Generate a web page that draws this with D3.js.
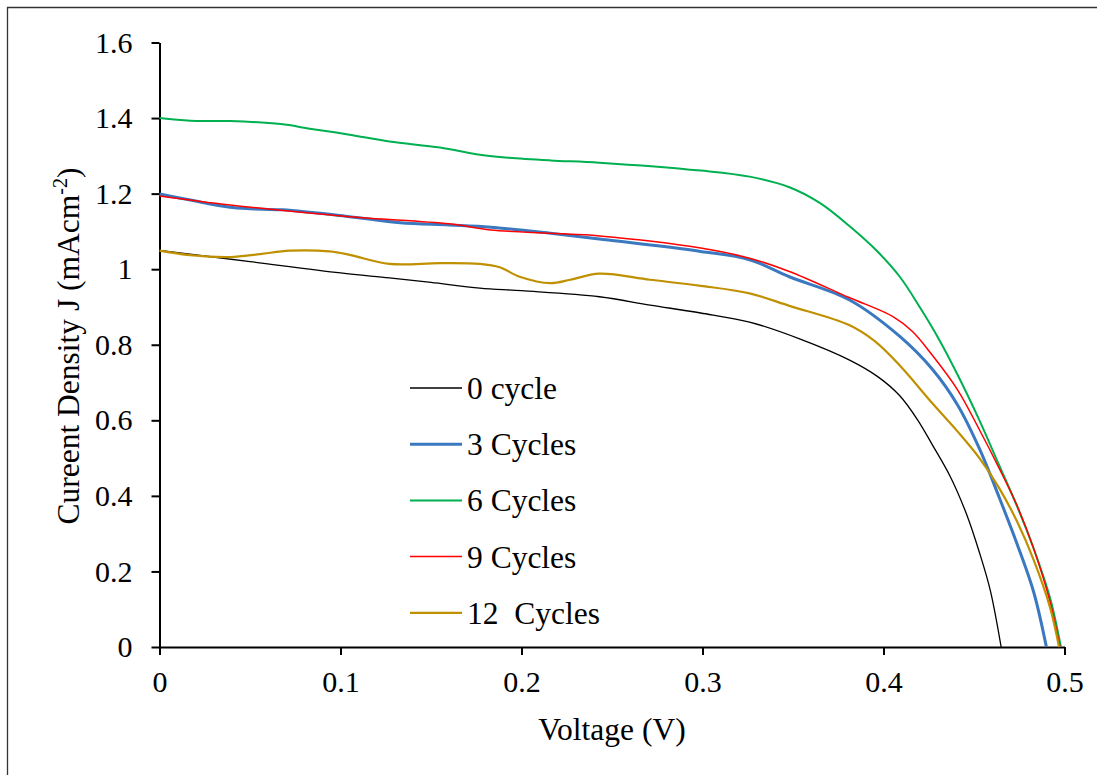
<!DOCTYPE html>
<html>
<head>
<meta charset="utf-8">
<script src="https://cdn.jsdelivr.net/npm/d3@7"></script>
<style>
  html, body { margin: 0; padding: 0; background: #fff; }
  svg { display: block; }
  text { font-family: "Liberation Serif", "Times New Roman", serif; fill: #000; }
</style>
</head>
<body>
<svg id="chart" width="1097" height="775"></svg>
<script>
// J–V curves (voltage in V, current density in mA/cm²)
const seriesNames = ["0 cycle", "3 Cycles", "6 Cycles", "9 Cycles", "12  Cycles"];
const seriesColors = ["#000000", "#3a78bf", "#00b050", "#ff0000", "#bf9000"];
const seriesWidths = [1.3, 3, 2, 1.5, 2.2];

const cycle0 = [
  [0, 1.05], [0.05, 1.02], [0.1, 0.99], [0.127, 0.977], [0.15, 0.965], [0.177, 0.95],
  [0.2, 0.943], [0.243, 0.927], [0.271, 0.905], [0.299, 0.884], [0.326, 0.86],
  [0.354, 0.815], [0.381, 0.76], [0.397, 0.715], [0.409, 0.665], [0.419, 0.6],
  [0.427, 0.535], [0.437, 0.45], [0.446, 0.35], [0.453, 0.25], [0.459, 0.15], [0.465, 0]
];
const cycle3 = [
  [0, 1.199], [0.017, 1.183], [0.039, 1.164], [0.05, 1.16], [0.068, 1.157],
  [0.105, 1.139], [0.133, 1.123], [0.16, 1.117], [0.183, 1.111], [0.216, 1.095],
  [0.243, 1.08], [0.299, 1.047], [0.326, 1.025], [0.348, 0.98], [0.381, 0.919],
  [0.409, 0.822], [0.427, 0.735], [0.441, 0.64], [0.453, 0.525], [0.464, 0.395],
  [0.474, 0.27], [0.483, 0.145], [0.49, 0]
];
const cycle6 = [
  [0, 1.40], [0.017, 1.393], [0.039, 1.392], [0.067, 1.384], [0.083, 1.372],
  [0.105, 1.356], [0.127, 1.338], [0.155, 1.322], [0.177, 1.303], [0.193, 1.295],
  [0.216, 1.288], [0.243, 1.282], [0.299, 1.261], [0.326, 1.245], [0.348, 1.217],
  [0.365, 1.175], [0.381, 1.115], [0.396, 1.05], [0.409, 0.98], [0.42, 0.9],
  [0.43, 0.82], [0.441, 0.72], [0.453, 0.6], [0.464, 0.48], [0.474, 0.37],
  [0.483, 0.26], [0.492, 0.13], [0.498, 0]
];
const cycle9 = [
  [0, 1.194], [0.039, 1.17], [0.105, 1.139], [0.16, 1.12], [0.183, 1.104],
  [0.216, 1.095], [0.243, 1.088], [0.299, 1.056], [0.326, 1.029], [0.348, 0.994],
  [0.381, 0.925], [0.405, 0.875], [0.416, 0.835], [0.427, 0.772], [0.441, 0.68],
  [0.453, 0.575], [0.464, 0.472], [0.474, 0.372], [0.483, 0.26], [0.492, 0.12],
  [0.4975, 0]
];
const cycle12 = [
  [0, 1.049], [0.017, 1.037], [0.039, 1.032], [0.0555, 1.04], [0.072, 1.049],
  [0.094, 1.047], [0.105, 1.038], [0.127, 1.014], [0.155, 1.016], [0.177, 1.014],
  [0.188, 1.005], [0.199, 0.98], [0.216, 0.963], [0.227, 0.972], [0.243, 0.988],
  [0.271, 0.972], [0.299, 0.956], [0.326, 0.936], [0.348, 0.903], [0.381, 0.852],
  [0.395, 0.81], [0.409, 0.745], [0.427, 0.645], [0.441, 0.57], [0.453, 0.5],
  [0.464, 0.42], [0.474, 0.33], [0.483, 0.23], [0.492, 0.105], [0.497, 0]
];
const seriesData = [cycle0, cycle3, cycle6, cycle9, cycle12];

const xTicks = [0, 0.1, 0.2, 0.3, 0.4, 0.5];
const yTicks = [0, 0.2, 0.4, 0.6, 0.8, 1, 1.2, 1.4, 1.6];

const svg = d3.select("#chart");

// outer frame (top and left edges)
svg.append("path")
  .attr("d", "M7.5,775 L7.5,7.5 L1097,7.5")
  .attr("fill", "none").attr("stroke", "#333").attr("stroke-width", 1.3);

const plot = { left: 159.5, right: 1064.5, top: 42.5, bottom: 647 };

const x = d3.scaleLinear().domain([0, 0.5]).range([plot.left, plot.right]);
const y = d3.scaleLinear().domain([0, 1.6]).range([plot.bottom, plot.top]);

const fmt = d => String(d);

// y axis
const yAxis = svg.append("g")
  .attr("transform", `translate(${plot.left},0)`)
  .call(d3.axisLeft(y).tickValues(yTicks).tickFormat(fmt).tickSize(8).tickSizeOuter(0).tickPadding(19));
// x axis
const xAxis = svg.append("g")
  .attr("transform", `translate(0,${plot.bottom})`)
  .call(d3.axisBottom(x).tickValues(xTicks).tickFormat(fmt).tickSize(8).tickSizeOuter(0).tickPadding(16));

[xAxis, yAxis].forEach(g => {
  g.select(".domain").attr("stroke", "#000").attr("stroke-width", 2);
  g.selectAll(".tick line").attr("stroke", "#000").attr("stroke-width", 2);
  g.selectAll(".tick text")
    .attr("font-family", "'Liberation Serif', 'Times New Roman', serif")
    .attr("font-size", 30).attr("fill", "#000");
});

// series lines
const line = d3.line()
  .x(d => x(d[0]))
  .y(d => y(d[1]))
  .curve(d3.curveCatmullRom.alpha(0.5));

seriesData.forEach((data, i) => {
  svg.append("path")
    .datum(data)
    .attr("fill", "none")
    .attr("stroke", seriesColors[i])
    .attr("stroke-width", seriesWidths[i])
    .attr("stroke-linejoin", "round")
    .attr("d", line);
});

// legend
const legend = svg.append("g").attr("transform", "translate(410,388)");
seriesNames.forEach((name, i) => {
  const row = legend.append("g").attr("transform", `translate(0,${i * 56.2})`);
  row.append("line")
    .attr("x1", 0).attr("x2", 52).attr("y1", 0).attr("y2", 0)
    .attr("stroke", seriesColors[i]).attr("stroke-width", seriesWidths[i]);
  row.append("text")
    .attr("x", 57).attr("y", 0).attr("dy", "0.35em")
    .attr("font-size", 31.5)
    .attr("xml:space", "preserve")
    .style("white-space", "pre")
    .text(name);
});

// axis titles
svg.append("text")
  .attr("x", (plot.left + plot.right) / 2).attr("y", 740)
  .attr("text-anchor", "middle").attr("font-size", 31.5)
  .text("Voltage (V)");

const yTitle = svg.append("text")
  .attr("transform", "translate(79,346) rotate(-90)")
  .attr("text-anchor", "middle").attr("font-size", 31.5);
yTitle.append("tspan").text("Cureent Density J (mAcm");
yTitle.append("tspan").attr("dy", -12).attr("font-size", 20).text("-2");
yTitle.append("tspan").attr("dy", 12).text(")");
</script>
</body>
</html>
